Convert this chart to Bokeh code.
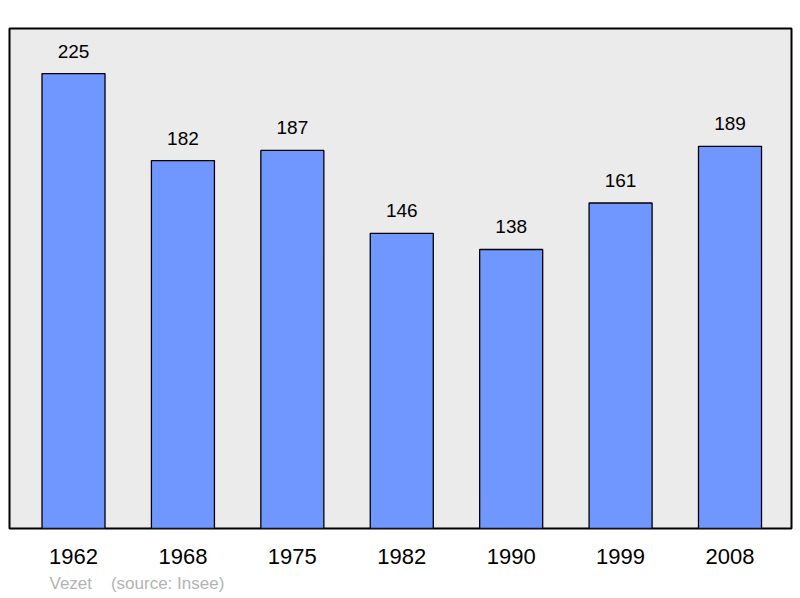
from bokeh.plotting import figure
from bokeh.models import Range1d, FixedTicker, Title, ColumnDataSource
from bokeh.embed import file_html
from bokeh.resources import INLINE
from bokeh.core.properties import value

years = ["1962", "1968", "1975", "1982", "1990", "1999", "2008"]
population = [225, 182, 187, 146, 138, 161, 189]
commune = "Vezet"
source_note = "(source: Insee)"

xs = list(range(len(years)))
src = ColumnDataSource(dict(x=xs, top=population, lab=[str(v) for v in population]))

p = figure(width=800, height=598, output_backend="svg", toolbar_location=None,
           x_range=Range1d(-0.585, 6.562), y_range=Range1d(0, 247.3),
           min_border_left=9, min_border_right=9, min_border_top=28, min_border_bottom=70)
p.background_fill_color = "#ebebeb"
p.border_fill_color = "white"
p.outline_line_color = "black"
p.outline_line_width = 2
p.grid.visible = False
p.yaxis.visible = False

p.vbar(x="x", top="top", bottom=0, width=0.576, source=src,
       fill_color="#7096ff", line_color="black", line_width=1.3)
p.text(x="x", y="top", text="lab", source=src, text_align="center",
       text_baseline="alphabetic", y_offset=-22.5, text_font=value("Liberation Sans"),
       text_font_size="19px", text_color="black")

ax = p.xaxis[0]
ax.ticker = FixedTicker(ticks=xs)
ax.major_label_overrides = {i: y for i, y in zip(xs, years)}
ax.axis_line_color = None
ax.major_tick_line_color = None
ax.minor_tick_line_color = None
ax.major_tick_out = 0
ax.major_label_standoff = 20
ax.major_label_text_font = "Liberation Sans"
ax.major_label_text_font_size = "22px"
ax.major_label_text_color = "black"

footer = Title(text=commune + "\u00a0\u00a0\u00a0\u00a0" + source_note, align="left", offset=40,
               standoff=10, text_font="Liberation Sans", text_font_size="17px",
               text_font_style="normal", text_color="#b3b3b3")
p.add_layout(footer, "below")

open("out.html", "w").write(file_html(p, INLINE))
